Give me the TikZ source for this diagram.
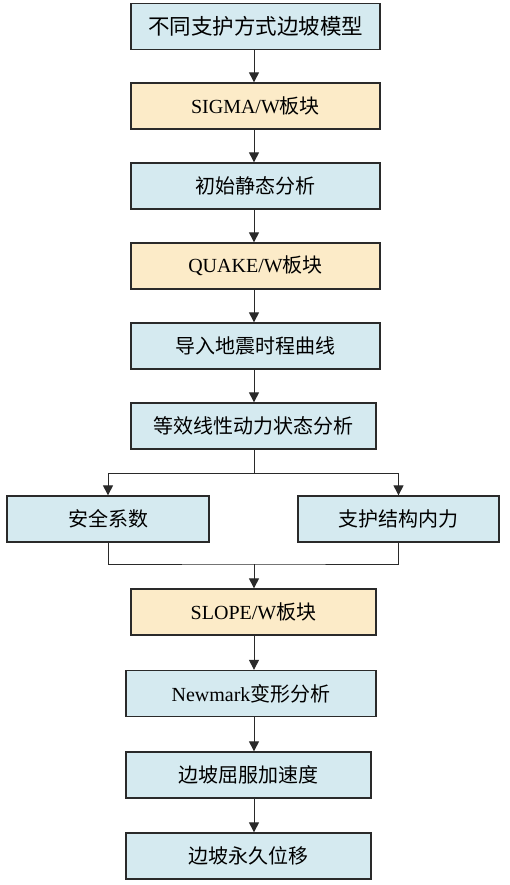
\documentclass[tikz,border=0pt]{standalone}
\usepackage{fontspec}
\setmainfont{Liberation Serif}
\newfontfamily\cjk{Noto Sans CJK SC}
\usetikzlibrary{arrows.meta}
\definecolor{boxblue}{HTML}{D5EAF0}
\definecolor{boxyellow}{HTML}{FCEBC8}
\definecolor{edge}{HTML}{2A2A2A}
\begin{document}
\begin{tikzpicture}[x=1pt,y=-1pt,
  base/.style={draw=edge,line width=1.3pt,minimum height=46pt,inner sep=0pt,font=\fontsize{20}{22}\selectfont},
  bluebox/.style={base,fill=boxblue},
  yellowbox/.style={base,fill=boxyellow},
  link/.style={draw=edge,line width=1pt},
  arr/.style={link,-{Triangle[width=10pt,length=10pt]}}]
\useasboundingbox (0,0) rectangle (509,885);
\node[bluebox,minimum width=249pt,font=\fontsize{21.5}{24}\selectfont] (b1) at (255.5,26.5) {\cjk 不同支护方式边坡模型};
\node[yellowbox,minimum width=249pt] (b2) at (255.5,106) {SIGMA/W{\cjk 板块}};
\node[bluebox,minimum width=249pt] (b3) at (255.5,186) {\cjk 初始静态分析};
\node[yellowbox,minimum width=249pt] (b4) at (255.5,266) {QUAKE/W{\cjk 板块}};
\node[bluebox,minimum width=249pt] (b5) at (255.5,346) {\cjk 导入地震时程曲线};
\node[bluebox,minimum width=245pt] (b6) at (253.5,426) {\cjk 等效线性动力状态分析};
\node[bluebox,minimum width=202pt] (L) at (108,519) {\cjk 安全系数};
\node[bluebox,minimum width=201pt] (R) at (398.5,519) {\cjk 支护结构内力};
\node[yellowbox,minimum width=245pt] (b7) at (253.5,612) {SLOPE/W{\cjk 板块}};
\node[bluebox,minimum width=250pt] (b8) at (251,693.5) {Newmark{\cjk 变形分析}};
\node[bluebox,minimum width=245pt] (b9) at (248.5,775) {\cjk 边坡屈服加速度};
\node[bluebox,minimum width=245pt] (b10) at (248.5,856) {\cjk 边坡永久位移};
\coordinate (ax) at (254,0);
\draw[arr] (b1.south -| ax) -- (b2.north -| ax);
\draw[arr] (b2.south -| ax) -- (b3.north -| ax);
\draw[arr] (b3.south -| ax) -- (b4.north -| ax);
\draw[arr] (b4.south -| ax) -- (b5.north -| ax);
\draw[arr] (b5.south -| ax) -- (b6.north -| ax);
\coordinate (split) at (254,473);
\coordinate (merge) at (254,564);
\draw[link] (b6.south -| ax) -- (split);
\draw[arr] (split) -| (L.north);
\draw[arr] (split) -| (R.north);
\draw[link] (L.south) |- (merge) -| (R.south);
\draw[arr] (merge) -- (b7.north -| ax);
\draw[arr] (b7.south -| ax) -- (b8.north -| ax);
\draw[arr] (b8.south -| ax) -- (b9.north -| ax);
\draw[arr] (b9.south -| ax) -- (b10.north -| ax);
\end{tikzpicture}
\end{document}
